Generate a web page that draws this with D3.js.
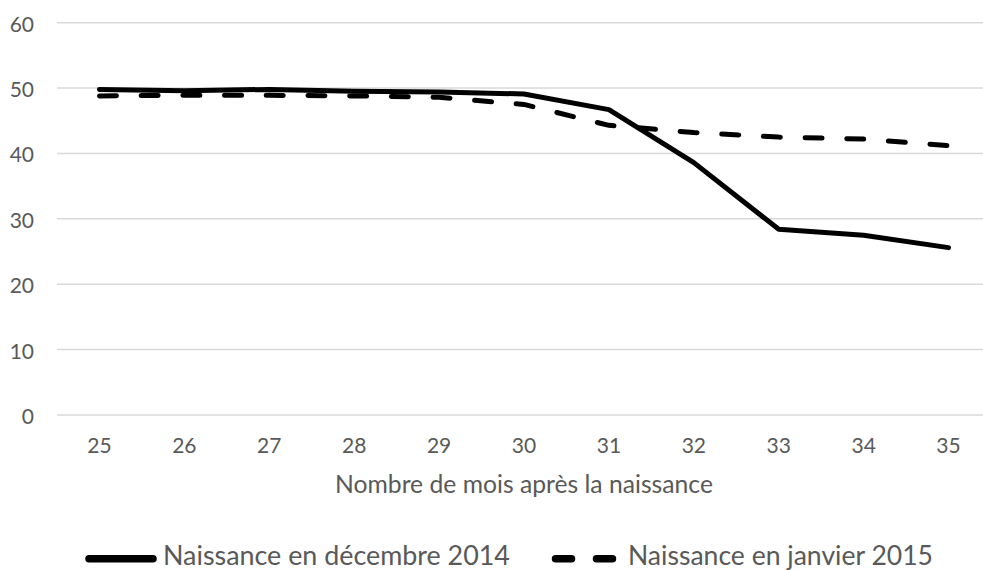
<!DOCTYPE html>
<html>
<head>
<meta charset="utf-8">
<script src="https://cdn.jsdelivr.net/npm/d3@7"></script>
<style>
  html, body { margin: 0; padding: 0; background: #fff; }
  svg { display: block; }
  text { font-family: Lato, "Open Sans", sans-serif; fill: #595959; }
</style>
</head>
<body>
<svg id="chart" width="983" height="570"></svg>
<script>
// ---- data ----
const months = [25, 26, 27, 28, 29, 30, 31, 32, 33, 34, 35];
const decembre2014 = [49.8, 49.6, 49.8, 49.5, 49.4, 49.1, 46.7, 38.6, 28.4, 27.5, 25.6];
const janvier2015  = [48.8, 48.9, 48.9, 48.8, 48.6, 47.5, 44.3, 43.2, 42.5, 42.2, 41.2];
const yTicks = [0, 10, 20, 30, 40, 50, 60];
const seriesNames = ["Naissance en décembre 2014", "Naissance en janvier 2015"];
const xTitle = "Nombre de mois après la naissance";

(function () {
const svg = d3.select("#chart");
const W = 983, H = 570;
const mLeft = 57, mRight = 991, mTop = 22.7, mBottom = 415;

const x = d3.scaleBand().domain(months).range([mLeft, mRight]);
const y = d3.scaleLinear().domain([0, 60]).range([mBottom, mTop]);

// fit text to a target width
function fit(sel, target) {
  const len = sel.node().getComputedTextLength();
  const fs = parseFloat(sel.attr("font-size"));
  sel.attr("font-size", (fs * target / len).toFixed(2));
}

// gridlines
svg.append("g").selectAll("line").data(yTicks).join("line")
  .attr("x1", mLeft).attr("x2", W)
  .attr("y1", d => y(d)).attr("y2", d => y(d))
  .attr("stroke", "#d9d9d9").attr("stroke-width", 1.5);

// y axis labels
const yAxis = d3.axisLeft(y).tickValues(yTicks).tickSize(0).tickPadding(0);
const ya = svg.append("g").attr("transform", `translate(34,0)`).call(yAxis);
ya.select(".domain").remove();
ya.selectAll("text").attr("font-size", 21).attr("fill", "#595959")
  .attr("dy", null).attr("dominant-baseline", "central")
  .style("font-family", "Lato, 'Open Sans', sans-serif");

// x axis labels
const xAxis = d3.axisBottom(x).tickSize(0).tickPadding(0);
const xa = svg.append("g").attr("transform", `translate(0,${mBottom})`).call(xAxis);
xa.select(".domain").remove();
xa.selectAll("text").attr("font-size", 21).attr("fill", "#595959")
  .attr("y", 38.3).attr("dy", null)
  .style("font-family", "Lato, 'Open Sans', sans-serif");

// x title
const xt = svg.append("text").attr("x", (335 + 713) / 2).attr("y", 493)
  .attr("text-anchor", "middle").attr("font-size", 20).text(xTitle);
fit(xt, 378);

// lines
const line = d3.line().x((d, i) => x(months[i]) + x.bandwidth() / 2).y(d => y(d));
const g = svg.append("g");
g.append("path").datum(janvier2015).attr("d", line)
  .attr("fill", "none").attr("stroke", "#000").attr("stroke-width", 5)
  .attr("stroke-linecap", "round").attr("stroke-linejoin", "round")
  .attr("stroke-dasharray", "17,24.7");
g.append("path").datum(decembre2014).attr("d", line)
  .attr("fill", "none").attr("stroke", "#000").attr("stroke-width", 5)
  .attr("stroke-linecap", "round").attr("stroke-linejoin", "round");

// legend
const ly = 558.8;
svg.append("line").attr("x1", 89).attr("x2", 153).attr("y1", ly).attr("y2", ly)
  .attr("stroke", "#000").attr("stroke-width", 7.5).attr("stroke-linecap", "round");
const l1 = svg.append("text").attr("x", 163).attr("y", 564.8).attr("font-size", 24).text(seriesNames[0]);
fit(l1, 347);
svg.append("line").attr("x1", 555.5).attr("x2", 613.5).attr("y1", ly).attr("y2", ly)
  .attr("stroke", "#000").attr("stroke-width", 7.5).attr("stroke-linecap", "round")
  .attr("stroke-dasharray", "16,25");
const l2 = svg.append("text").attr("x", 628).attr("y", 564.8).attr("font-size", 24).text(seriesNames[1]);
fit(l2, 305);
})();
</script>
</body>
</html>
